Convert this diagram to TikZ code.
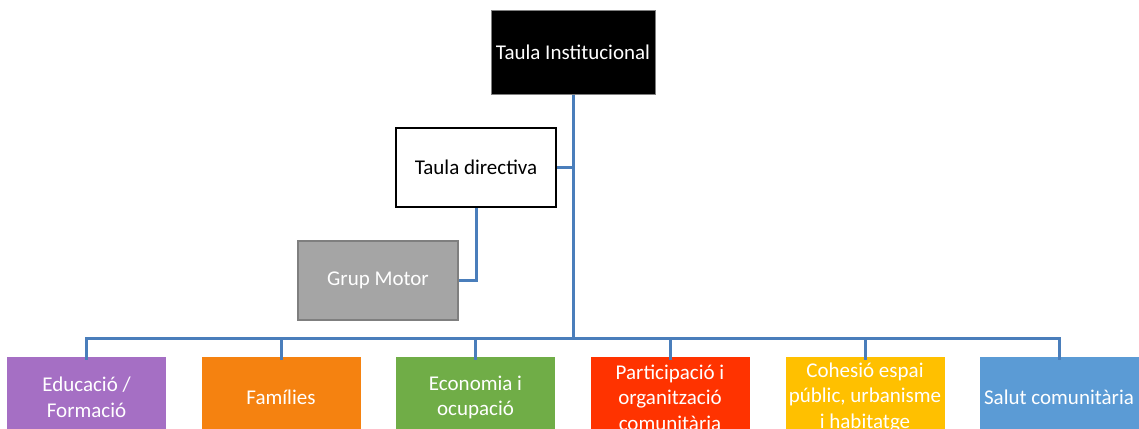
\documentclass[tikz,border=0pt]{standalone}
\usepackage{fontspec}
\setmainfont{Carlito}
\definecolor{conn}{HTML}{4A7EBB}
\definecolor{cpurple}{HTML}{A56FC4}
\definecolor{corange}{HTML}{F58210}
\definecolor{cgreen}{HTML}{70AD47}
\definecolor{cred}{HTML}{FF3300}
\definecolor{cyellow}{HTML}{FFC000}
\definecolor{cblue}{HTML}{5B9BD5}
\definecolor{cgrey}{HTML}{A5A5A5}
\definecolor{cgreyb}{HTML}{7F7F7F}
\begin{document}
\begin{tikzpicture}[x=1pt,y=-1pt,
  txt/.style={font=\fontsize{21}{25.6}\selectfont, align=center, inner sep=0pt},
  topbox/.style={txt, fill=black, draw=cgreyb, line width=1pt, text=white, minimum width=164pt, minimum height=83pt},
  dirbox/.style={txt, fill=white, draw=black, line width=2.5pt, text=black, minimum width=160pt, minimum height=79pt},
  motorbox/.style={txt, fill=cgrey, draw=cgreyb, line width=2pt, text=white, minimum width=160pt, minimum height=79pt},
  areabox/.style={txt, fill=#1, draw=#1, line width=0.5pt, text=white, minimum width=158pt, minimum height=81pt},
  link/.style={draw=conn, line width=3pt}]
\useasboundingbox (0,0) rectangle (1139,428);
\clip (0,0) rectangle (1139,428);
\node[topbox] (T) at (573,52.5) {Taula Institucional};
\node[dirbox] (D) at (476,167.5) {Taula directiva};
\node[motorbox] (M) at (378,280.5) {Grup Motor};
\node[areabox=cpurple] (b1) at (86.5,397.5) {Educació /\\Formació};
\node[areabox=corange] (b2) at (281,397.5) {Famílies};
\node[areabox=cgreen] (b3) at (475.5,397.5) {Economia i\\ocupació};
\node[areabox=cred] (b4) at (670,397.5) {Participació i\\organització\\comunitària};
\node[areabox=cyellow] (b5) at (865,397.5) {Cohesió espai\\públic, urbanisme\\i habitatge};
\node[areabox=cblue] (b6) at (1059,397.5) {Salut comunitària};
\coordinate (bus) at (573,338.5);
\coordinate (dj) at (573,167.5);
\draw[link] (T.south) -- (bus);
\draw[link] (D.east) -- (dj);
\draw[link] (D.south) |- (M.east);
\foreach \b in {b1,b2,b3,b4,b5,b6}{
  \draw[link, line cap=butt] (bus) -| ([yshift=-3.5pt]\b.north);
}
\end{tikzpicture}
\end{document}
